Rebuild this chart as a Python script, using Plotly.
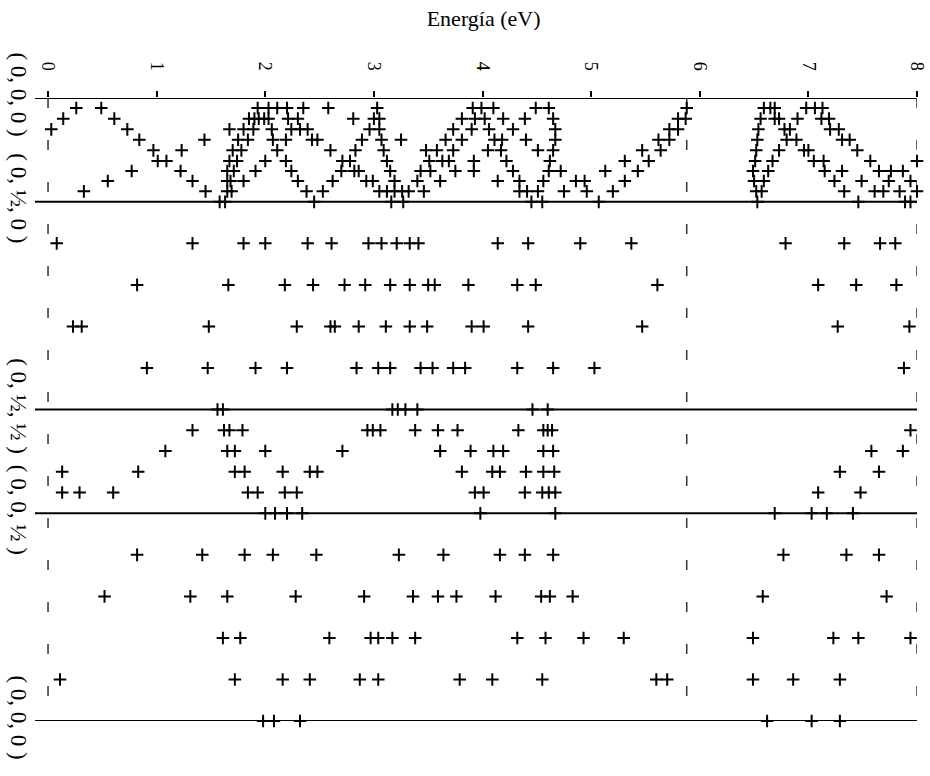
import plotly.graph_objects as go

# Axis ticks and high-symmetry points along the k path
energy_ticks = [0, 1, 2, 3, 4, 5, 6, 7, 8]
kpath_pos = [0, 1, 3, 4, 6]
kpath_labels = ["( 0, 0, 0 )", "( 0, ½, 0 )", "( 0, ½, ½ )", "( 0, 0, ½ )", "( 0, 0, 0 )"]

# Dashed reference level (eV)
fermi_level = 5.88

# Segment (0,0,0) -> (0,1/2,0): sampled k rows and band energies (eV)
k_seg1 = [0.096, 0.199, 0.302, 0.402, 0.504, 0.607, 0.703, 0.800, 0.899]
e_seg1 = [
    [0.26, 0.49, 1.93, 2.03, 2.11, 2.20, 2.35, 2.58, 3.03, 3.91, 3.99, 4.10, 4.49, 4.61, 5.88,
     6.59, 6.65, 6.69, 6.98, 7.06, 7.13],
    [0.14, 0.61, 1.85, 1.90, 1.94, 1.99, 2.03, 2.21, 2.30, 2.81, 3.00, 3.05, 3.81, 3.93, 4.02,
     4.19, 4.39, 4.65, 5.80, 5.87, 6.56, 6.69, 6.73, 6.90, 7.12, 7.19],
    [0.03, 0.73, 1.67, 1.80, 1.89, 2.06, 2.24, 2.32, 2.39, 2.96, 3.05, 3.73, 3.90, 4.06, 4.28,
     4.67, 5.72, 5.80, 6.54, 6.78, 6.83, 7.20, 7.28],
    [0.84, 1.44, 1.75, 1.84, 2.07, 2.19, 2.43, 2.48, 2.89, 3.07, 3.25, 3.66, 3.81, 4.11, 4.18,
     4.40, 4.67, 5.62, 5.72, 6.53, 6.80, 6.89, 7.31, 7.38],
    [0.97, 1.23, 1.70, 1.78, 2.11, 2.60, 2.83, 3.09, 3.48, 3.58, 3.73, 4.05, 4.17, 4.51, 4.65,
     5.47, 5.64, 6.52, 6.73, 6.96, 7.00, 7.45],
    [1.01, 1.09, 1.67, 1.74, 2.00, 2.19, 2.71, 2.78, 3.12, 3.51, 3.63, 3.69, 3.92, 4.22, 4.62,
     5.31, 5.53, 6.51, 6.67, 7.05, 7.14, 7.57, 8.00],
    [0.77, 1.22, 1.65, 1.71, 1.91, 2.24, 2.70, 2.82, 2.86, 3.15, 3.43, 3.52, 3.75, 3.92, 4.28,
     4.61, 4.72, 5.13, 5.43, 6.49, 6.63, 7.15, 7.31, 7.65, 7.76, 7.87],
    [0.55, 1.33, 1.65, 1.68, 1.80, 2.30, 2.62, 2.93, 2.99, 3.19, 3.40, 3.61, 4.14, 4.34, 4.56,
     4.86, 4.94, 5.31, 6.50, 6.59, 7.24, 7.49, 7.74, 7.94],
    [0.33, 1.45, 1.65, 1.69, 2.38, 2.53, 3.05, 3.12, 3.19, 3.26, 3.32, 3.46, 4.34, 4.41, 4.51,
     4.75, 4.96, 5.20, 6.52, 6.57, 7.33, 7.61, 7.69, 7.84, 8.00],
]

# Segment (0,1/2,0) -> (0,1/2,1/2)
k_seg2 = [1.4, 1.8, 2.2, 2.6]
e_seg2 = [
    [0.08, 1.33, 1.80, 2.00, 2.39, 2.61, 2.95, 3.07, 3.21, 3.33, 3.41, 4.14, 4.42, 4.90, 5.37,
     6.79, 7.33, 7.66, 7.80],
    [0.82, 1.66, 2.18, 2.44, 2.73, 2.92, 3.15, 3.33, 3.50, 3.56, 3.87, 4.32, 4.49, 5.61, 7.09,
     7.44, 7.81],
    [0.23, 0.31, 1.48, 2.29, 2.60, 2.64, 2.86, 3.11, 3.33, 3.49, 3.90, 4.01, 4.42, 5.47, 7.27,
     7.93],
    [0.91, 1.47, 1.91, 2.20, 2.84, 3.04, 3.15, 3.43, 3.54, 3.73, 3.84, 4.32, 4.65, 5.03, 7.88],
]

# Segment (0,1/2,1/2) -> (0,0,1/2)
k_seg3 = [3.2, 3.4, 3.6, 3.8]
e_seg3 = [
    [1.33, 1.62, 1.67, 1.79, 2.94, 2.99, 3.06, 3.38, 3.59, 3.77, 4.33, 4.56, 4.60, 4.64, 7.94],
    [1.08, 1.65, 1.72, 2.00, 2.71, 3.61, 3.89, 4.10, 4.19, 4.56, 4.65, 7.58, 7.87],
    [0.13, 0.83, 1.72, 1.81, 2.16, 2.41, 2.48, 3.81, 4.09, 4.16, 4.40, 4.56, 4.66, 7.29, 7.65],
    [0.13, 0.29, 0.60, 1.84, 1.93, 2.18, 2.29, 3.93, 4.01, 4.39, 4.55, 4.61, 4.67, 7.09, 7.48],
]

# Segment (0,0,1/2) -> (0,0,0)
k_seg4 = [4.4, 4.8, 5.2, 5.6]
e_seg4 = [
    [0.82, 1.42, 1.81, 2.07, 2.47, 3.23, 3.64, 4.16, 4.39, 4.65, 6.77, 7.35, 7.65],
    [0.52, 1.31, 1.65, 2.28, 2.91, 3.36, 3.59, 3.76, 4.12, 4.54, 4.62, 4.83, 6.58, 7.72],
    [1.61, 1.77, 2.59, 2.97, 3.04, 3.17, 3.38, 4.32, 4.58, 4.93, 5.30, 6.49, 7.23, 7.46, 7.94],
    [0.11, 1.72, 2.16, 2.41, 2.87, 3.04, 3.79, 4.09, 4.55, 5.60, 5.70, 6.49, 6.86, 7.29],
]

# Energies at the high-symmetry points themselves
k_nodes = [1, 3, 4, 6]
e_nodes = [
    [1.58, 1.63, 2.45, 3.16, 3.27, 4.45, 4.55, 5.07, 6.53, 7.46, 7.89, 7.94],
    [1.56, 1.61, 3.17, 3.22, 3.29, 3.40, 4.46, 4.60],
    [2.00, 2.09, 2.20, 2.34, 3.98, 4.67, 6.69, 7.03, 7.17, 7.41],
    [1.98, 2.08, 2.32, 6.62, 7.03, 7.29],
]

SERIF = "Liberation Serif"

xs, ys = [], []
for ks, rows in [(k_seg1, e_seg1), (k_seg2, e_seg2), (k_seg3, e_seg3),
                 (k_seg4, e_seg4), (k_nodes, e_nodes)]:
    for k, row in zip(ks, rows):
        xs.extend(row)
        ys.extend([k] * len(row))

fig = go.Figure()

# Vertical dashed guides: band window edges and the reference level
for xv in [energy_ticks[0], fermi_level, energy_ticks[-1]]:
    fig.add_trace(go.Scatter(
        x=[xv, xv], y=[kpath_pos[0], kpath_pos[-1]], mode="lines",
        line=dict(color="#333333", width=1.5, dash="10px,32px"),
        hoverinfo="skip", showlegend=False, cliponaxis=False,
    ))

fig.add_trace(go.Scatter(
    x=xs, y=ys, mode="markers",
    marker=dict(symbol="cross-thin", size=9, color="black",
                line=dict(color="black", width=2)),
    showlegend=False, cliponaxis=False,
))

# Horizontal lines at the high-symmetry points
for kp in kpath_pos:
    fig.add_shape(type="line", xref="paper", yref="y", x0=0, x1=1, y0=kp, y1=kp,
                  line=dict(color="black", width=2), layer="below")

fig.update_layout(
    width=930, height=776,
    margin=dict(l=35, r=13, t=98, b=55, autoexpand=False),
    paper_bgcolor="white", plot_bgcolor="white",
    font=dict(family=SERIF, color="black"),
    title=dict(text="Energía (eV)", x=0.52, xanchor="center", y=0.977, yanchor="middle",
               font=dict(family=SERIF, size=22, color="black")),
    xaxis=dict(
        side="top", range=[-0.12, 8.0], tickvals=energy_ticks,
        ticktext=[str(v) for v in energy_ticks], tickangle=90,
        tickfont=dict(family=SERIF, size=18), ticks="outside", ticklen=6,
        tickcolor="black", tickwidth=1.5, ticklabelstandoff=14, automargin=False,
        showgrid=False, zeroline=False, showline=False,
    ),
    yaxis=dict(
        range=[kpath_pos[-1], kpath_pos[0]], tickvals=kpath_pos, ticktext=kpath_labels,
        tickangle=90, tickfont=dict(family=SERIF, size=23), ticks="",
        ticklabelstandoff=0, automargin=False,
        showgrid=False, zeroline=False, showline=False,
    ),
)

fig.write_html("out.html")
